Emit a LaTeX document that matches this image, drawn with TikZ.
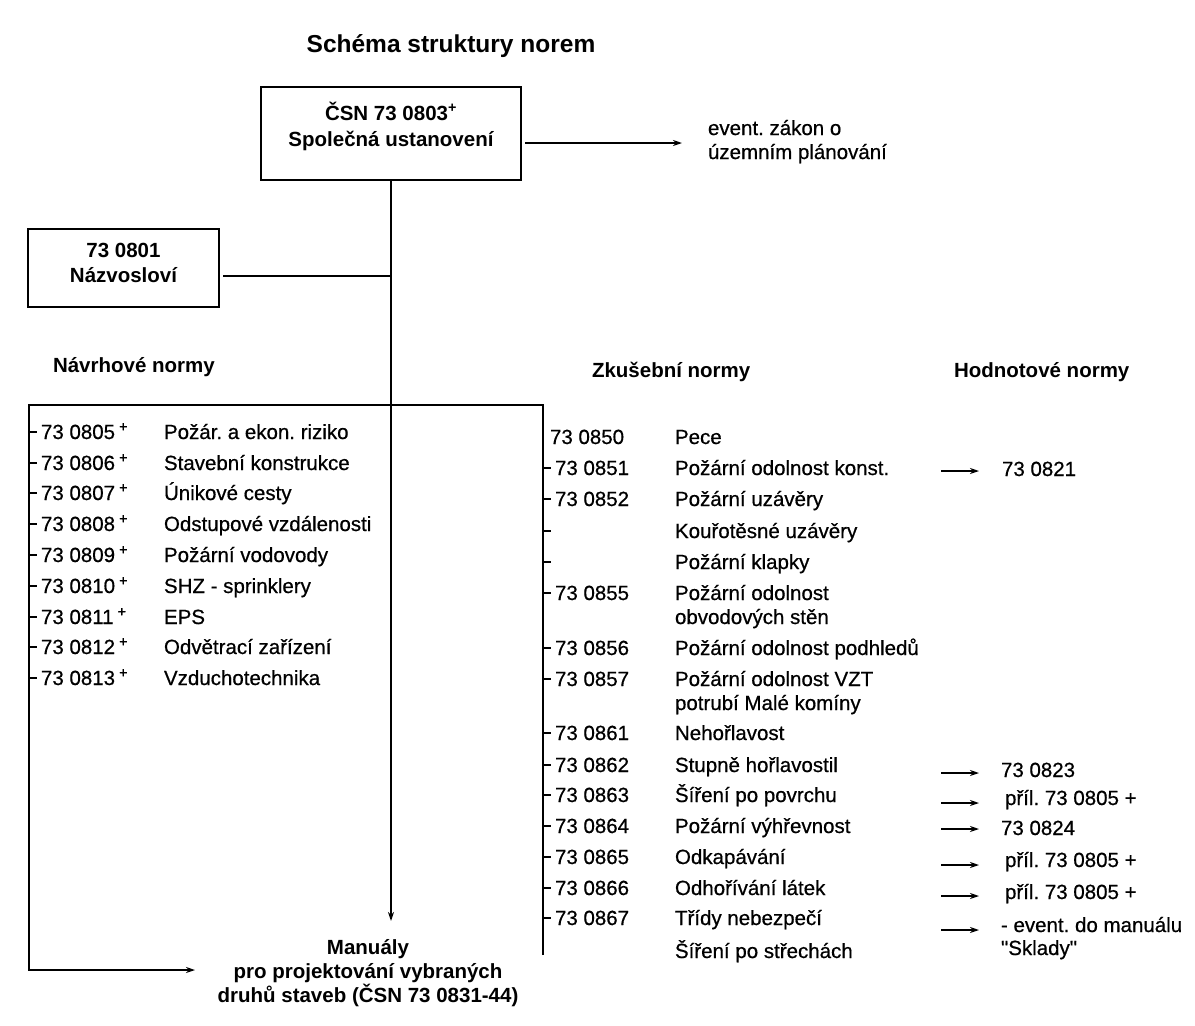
\documentclass[tikz,border=0pt]{standalone}
\usepackage{fontspec}
\setmainfont{Liberation Sans}
\newfontfamily\regfont{Liberation Sans}[FakeBold=0.6]
\usetikzlibrary{arrows.meta}
\frenchspacing
\begin{document}
\frenchspacing
\begin{tikzpicture}[x=1pt,y=-1pt,
  every node/.style={inner sep=0pt,outer sep=0pt},
  reg/.style={anchor=base west,font=\regfont\fontsize{20.5}{24}\selectfont},
  hd/.style={anchor=base west,font=\fontsize{20.5}{24}\selectfont\bfseries},
  frame/.style={draw,line width=1.5pt},
  btxt/.style={align=center,font=\fontsize{20.5}{26}\selectfont\bfseries},
  mtxt/.style={align=center,font=\fontsize{20.5}{24}\selectfont\bfseries},
  ln/.style={line width=1.5pt},
  arr/.style={line width=1.5pt,-{Stealth[length=9pt,width=6pt]}},
]
\fill[white] (0,0) rectangle (1195,1026);
\path[use as bounding box] (0,0) rectangle (1195,1026);

% title
\node[anchor=base,font=\fontsize{24.5}{28}\selectfont\bfseries] (title) at (451,52) {Schéma struktury norem};

% top box
\node[frame,minimum width=260,minimum height=93] (b1) at (391,133.5) {};
\node[btxt] (b1t) at (391,126.2) {ČSN 73 0803\textsuperscript{+}\\Společná ustanovení};

% event text
\node[align=left,anchor=west,font=\regfont\fontsize{20.5}{24}\selectfont] (evt) at (708,141.6) {event. zákon o\\územním plánování};
\draw[arr,shorten <=4pt,shorten >=26pt] ([yshift=-9.5pt]b1.east) -- ([yshift=-9.5pt]b1.east -| evt.west);

% Nazvoslovi box
\node[frame,minimum width=191,minimum height=78] (b2) at (123.5,268) {};
\node[btxt,font=\fontsize{20.5}{25}\selectfont\bfseries] (b2t) at (123.5,262.5) {73 0801\\Názvosloví};

% main vertical line to manuals
\coordinate (mtip) at (391,921);
\draw[arr] (b1.south) -- (mtip);
\draw[ln,shorten <=4pt] ([yshift=-8pt]b2.east) -- ([yshift=-8pt]b2.east -| b1.south);

% headings
\node[hd] (hn) at (53,372) {Návrhové normy};
\node[hd] (hz) at (592,377) {Zkušební normy};
\node[hd] (hh) at (954,377) {Hodnotové normy};

% frame of the lists
\coordinate (ftl) at (29,405);
\coordinate (ftr) at (543,405);
\coordinate (fbr) at (543,955);
\coordinate (fbl) at (29,970);
\coordinate (ltip) at (195,970);
\draw[arr] (fbr) -- (ftr) -- (ftl) -- (fbl) -- (ltip);

% left list
\foreach \y/\n/\d [count=\i] in {432/73 0805/Požár. a ekon. riziko,
  463/73 0806/Stavební konstrukce, 493/73 0807/Únikové cesty,
  524/73 0808/Odstupové vzdálenosti, 555/73 0809/Požární vodovody,
  586/73 0810/SHZ - sprinklery, 617/73 0811/EPS,
  647/73 0812/Odvětrací zařízení, 678/73 0813/Vzduchotechnika}{
  \draw[ln] (29,\y) -- (37,\y);
  \node[reg] (ln\i) at (41,\y+7) {\n\hspace{4pt}\textsuperscript{+}};
  \node[reg] (ld\i) at (164,\y+7) {\d};
}

% right list ticks
\foreach \y in {468,499,531,562,593,648,679,733,765,795,826,857,888,918}{
  \draw[ln] (543,\y) -- (551,\y);
}
% right list texts
\node[reg] (rn0) at (550,444) {73 0850};
\node[reg] (rd0) at (675,444) {Pece};
\node[reg] (rn1) at (555,475) {73 0851};
\node[reg] (rd1) at (675,475) {Požární odolnost konst.};
\node[reg] (rn2) at (555,506) {73 0852};
\node[reg] (rd2) at (675,506) {Požární uzávěry};
\node[reg] (rd3) at (675,538) {Kouřotěsné uzávěry};
\node[reg] (rd4) at (675,569) {Požární klapky};
\node[reg] (rn5) at (555,600) {73 0855};
\node[reg] (rd5) at (675,600) {Požární odolnost};
\node[reg] (rd5b) at (675,624) {obvodových stěn};
\node[reg] (rn6) at (555,655) {73 0856};
\node[reg] (rd6) at (675,655) {Požární odolnost podhledů};
\node[reg] (rn7) at (555,686) {73 0857};
\node[reg] (rd7) at (675,686) {Požární odolnost VZT};
\node[reg] (rd7b) at (675,710) {potrubí Malé komíny};
\node[reg] (rn8) at (555,740) {73 0861};
\node[reg] (rd8) at (675,740) {Nehořlavost};
\node[reg] (rn9) at (555,772) {73 0862};
\node[reg] (rd9) at (675,772) {Stupně hořlavostil};
\node[reg] (rn10) at (555,802) {73 0863};
\node[reg] (rd10) at (675,802) {Šíření po povrchu};
\node[reg] (rn11) at (555,833) {73 0864};
\node[reg] (rd11) at (675,833) {Požární výhřevnost};
\node[reg] (rn12) at (555,864) {73 0865};
\node[reg] (rd12) at (675,864) {Odkapávání};
\node[reg] (rn13) at (555,895) {73 0866};
\node[reg] (rd13) at (675,895) {Odhořívání látek};
\node[reg] (rn14) at (555,925) {73 0867};
\node[reg] (rd14) at (675,925) {Třídy nebezpečí};
\node[reg] (rd15) at (675,958) {Šíření po střechách};

% value norms
\node[reg] (h1) at (1002,476) {73 0821};
\node[reg] (h2) at (1001,777) {73 0823};
\node[reg] (h3) at (1005,805) {příl. 73 0805 +};
\node[reg] (h4) at (1001,835) {73 0824};
\node[reg] (h5) at (1005,867) {příl. 73 0805 +};
\node[reg] (h6) at (1005,899) {příl. 73 0805 +};
\node[reg] (h7) at (1001,932) {- event. do manuálu};
\node[reg] (h7b) at (1001,955) {\symbol{34}Sklady\symbol{34}};

\foreach \y/\t/\s in {471/h1/23, 773/h2/22, 803/h3/26, 829/h4/22, 865/h5/26, 896/h6/26, 930/h7/22}{
  \coordinate (as\t) at (941,\y);
  \draw[arr,shorten >=\s pt] (as\t) -- (as\t -| \t.west);
}

% manuals
\node[mtxt] (man) at (368,972.6) {Manuály\\pro projektování vybraných\\druhů staveb (ČSN 73 0831-44)};
\end{tikzpicture}
\end{document}
